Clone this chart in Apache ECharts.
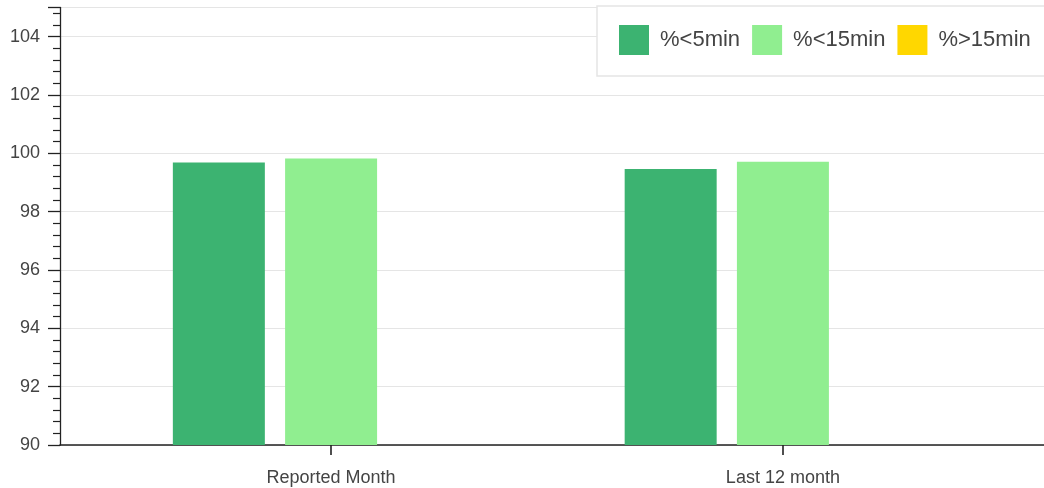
<!DOCTYPE html>
<html>
<head>
<meta charset="utf-8">
<title>Response times</title>
<script src="https://cdn.jsdelivr.net/npm/echarts@6/dist/echarts.min.js"></script>
<style>
  html, body { margin: 0; padding: 0; background: #ffffff; overflow: hidden; }
  /* the plot runs on past the right edge of the window */
  #chart { width: 1100px; height: 488px; }
</style>
</head>
<body>
<div id="chart"></div>
<script>
// Reporting periods and the share of calls handled within each time band (%)
const categories = ['Reported Month', 'Last 12 month'];
const seriesNames = ['%<5min', '%<15min', '%>15min'];
const under5min = [99.69, 99.46];
const under15min = [99.82, 99.71];
const over15min = [0.18, 0.29];
const seriesColors = ['#3CB371', '#90EE90', '#FFD700'];

// The category axis is laid out on evenly spaced slots; each period sits on
// its own slot with empty slots as padding around the two groups.
const SLOT_COUNT = 12;
const PERIOD_SLOTS = [3, 8];
const axisSlots = new Array(SLOT_COUNT).fill('');
PERIOD_SLOTS.forEach((s, i) => { axisSlots[s] = categories[i]; });
function toSlots(values) {
  const out = new Array(SLOT_COUNT).fill('-');
  PERIOD_SLOTS.forEach((s, i) => { out[s] = values[i]; });
  return out;
}
const isPeriodSlot = (idx) => PERIOD_SLOTS.indexOf(idx) !== -1;

const FONT = '"Liberation Sans", Arial, Helvetica, sans-serif';
const chart = echarts.init(document.getElementById('chart'), null, { renderer: 'canvas' });

const valueSets = [under5min, under15min, over15min];
const series = seriesNames.map((name, i) => ({
  name: name,
  type: 'bar',
  data: toSlots(valueSets[i]),
  barWidth: 92,
  barGap: '22%',
  itemStyle: { color: seriesColors[i] },
  emphasis: { disabled: true },
  animation: false
}));

chart.setOption({
  animation: false,
  backgroundColor: '#ffffff',
  textStyle: { fontFamily: FONT },
  grid: { left: 60, right: 46, top: 7.5, bottom: 43, containLabel: false },
  legend: {
    data: seriesNames,
    left: 597,
    top: 6,
    orient: 'horizontal',
    icon: 'rect',
    itemWidth: 30,
    itemHeight: 30,
    itemGap: 12,
    padding: [19, 20, 21, 22],
    backgroundColor: '#ffffff',
    borderColor: '#e5e5e5',
    borderWidth: 1.5,
    selectedMode: false,
    textStyle: { fontSize: 22, color: '#444444', fontFamily: FONT, padding: [0, 0, 0, 6] }
  },
  xAxis: {
    type: 'category',
    data: axisSlots,
    boundaryGap: false,
    axisLine: { show: true, lineStyle: { color: '#222222', width: 1.6 } },
    axisTick: {
      show: true,
      length: 10,
      interval: (idx) => isPeriodSlot(idx),
      lineStyle: { color: '#222222', width: 1.6 }
    },
    axisLabel: {
      show: true,
      interval: (idx) => isPeriodSlot(idx),
      margin: 24,
      fontSize: 18,
      color: '#444444',
      fontFamily: FONT
    },
    splitLine: { show: false }
  },
  yAxis: {
    type: 'value',
    min: 90,
    max: 105,
    interval: 2,
    axisLine: { show: true, lineStyle: { color: '#222222', width: 1.3 } },
    axisTick: { show: true, length: 12, lineStyle: { color: '#222222', width: 1.3 } },
    minorTick: { show: true, splitNumber: 5, length: 7, lineStyle: { color: '#222222', width: 1.2 } },
    axisLabel: {
      margin: 20,
      fontSize: 18,
      color: '#444444',
      fontFamily: FONT,
      formatter: (v) => (v > 104 ? '' : String(v))
    },
    splitLine: { show: true, lineStyle: { color: '#e5e5e5', width: 1.2 } }
  },
  series: series
});
</script>
</body>
</html>
